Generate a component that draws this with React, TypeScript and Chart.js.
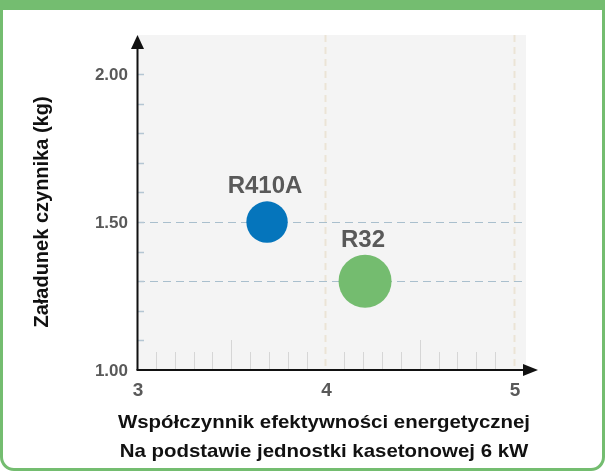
import { useEffect, useRef } from 'react';
import { Chart, registerables } from 'chart.js';

Chart.register(...registerables);

// ---- data ----
const refrigerants = ['R410A', 'R32'];
const efficiency = [3.69, 4.21];
const charge = [1.5, 1.3];
const xTickValues = [3, 4, 5];
const xTickLabels = ['3', '4', '5'];
const yTickValues = [1.0, 1.5, 2.0];
const yTickLabels = ['1.00', '1.50', '2.00'];
const xGuides = [4, 5];
const yGuides = [1.5, 1.3];
const xTitle = ['Współczynnik efektywności energetycznej', 'Na podstawie jednostki kasetonowej 6 kW'];
const yTitle = 'Załadunek czynnika (kg)';

// ---- styles ----
const pointColors = ['#0575bc', '#74bc6f'];
const pointRadii = [20.7, 26.5];
const FONT = '"Liberation Sans", Arial, "DejaVu Sans", sans-serif';

const decor = {
  id: 'decor',
  beforeDatasetsDraw(chart: any) {
    const { ctx, chartArea: a, scales } = chart;
    const x = scales.x, y = scales.y;
    ctx.save();
    ctx.fillStyle = '#f4f4f4';
    ctx.fillRect(a.left, a.top, a.right - a.left, a.bottom - a.top);
    // vertical dashed guides
    ctx.strokeStyle = '#ebe4d6';
    ctx.lineWidth = 2;
    ctx.setLineDash([7, 5]);
    xGuides.forEach((v) => {
      const px = Math.round(x.getPixelForValue(v)) + 0.5;
      ctx.beginPath();
      ctx.moveTo(px, a.top);
      ctx.lineTo(px, a.bottom);
      ctx.stroke();
    });
    // horizontal dashed guides
    ctx.strokeStyle = '#a9bfcd';
    ctx.lineWidth = 1;
    ctx.setLineDash([8, 5]);
    yGuides.forEach((v) => {
      const py = Math.round(y.getPixelForValue(v)) + 0.5;
      ctx.beginPath();
      ctx.moveTo(a.left, py);
      ctx.lineTo(a.right, py);
      ctx.stroke();
    });
    ctx.setLineDash([]);
    // x minor ticks
    ctx.strokeStyle = '#d6d6d6';
    ctx.lineWidth = 1;
    for (let i = 1; i < 20; i++) {
      if (i === 10) continue;
      const v = 3 + i / 10;
      const px = Math.round(x.getPixelForValue(v)) + 0.5;
      const len = i % 5 === 0 ? 30 : 18;
      ctx.beginPath();
      ctx.moveTo(px, a.bottom);
      ctx.lineTo(px, a.bottom - len);
      ctx.stroke();
    }
    // y minor ticks
    ctx.strokeStyle = '#b4c6d3';
    ctx.lineWidth = 1.5;
    for (let i = 1; i <= 10; i++) {
      const v = 1 + i / 10;
      const py = Math.round(y.getPixelForValue(v)) + 0.5;
      ctx.beginPath();
      ctx.moveTo(a.left, py);
      ctx.lineTo(a.left + 7, py);
      ctx.stroke();
    }
    ctx.restore();
  },
  afterDraw(chart: any) {
    const { ctx, scales } = chart;
    const x = scales.x, y = scales.y;
    ctx.save();
    const ax = x.getPixelForValue(3);
    const ay = y.getPixelForValue(1);
    // axes
    ctx.strokeStyle = '#111';
    ctx.fillStyle = '#111';
    ctx.lineWidth = 2;
    ctx.beginPath();
    ctx.moveTo(ax + 0.5, ay);
    ctx.lineTo(ax + 0.5, 48);
    ctx.stroke();
    ctx.beginPath();
    ctx.moveTo(ax + 0.5, 35);
    ctx.lineTo(ax + 0.5 - 6.5, 49);
    ctx.lineTo(ax + 0.5 + 6.5, 49);
    ctx.closePath();
    ctx.fill();
    ctx.beginPath();
    ctx.moveTo(ax - 0.5, ay);
    ctx.lineTo(524, ay);
    ctx.stroke();
    ctx.beginPath();
    ctx.moveTo(538, ay);
    ctx.lineTo(523, ay - 6);
    ctx.lineTo(523, ay + 6);
    ctx.closePath();
    ctx.fill();

    // tick labels
    ctx.fillStyle = '#595959';
    ctx.font = `bold 17px ${FONT}`;
    ctx.textAlign = 'right';
    ctx.textBaseline = 'middle';
    yTickValues.forEach((v, i) => {
      ctx.fillText(yTickLabels[i], 128, y.getPixelForValue(v) + 1);
    });
    ctx.font = `bold 19px ${FONT}`;
    ctx.textAlign = 'center';
    xTickValues.forEach((v, i) => {
      ctx.fillText(xTickLabels[i], x.getPixelForValue(v) + 1, 391);
    });

    // point labels
    ctx.font = `bold 24px ${FONT}`;
    ctx.textBaseline = 'alphabetic';
    refrigerants.forEach((name, i) => {
      const px = x.getPixelForValue(efficiency[i]);
      const py = y.getPixelForValue(charge[i]);
      ctx.fillText(name, px - 2, py - pointRadii[i] - 8);
    });

    // axis titles (slightly widened to match the reference's wide bold face)
    ctx.fillStyle = '#111';
    ctx.font = `bold 19px ${FONT}`;
    ctx.textBaseline = 'middle';
    [423, 452].forEach((ty, i) => {
      ctx.save();
      ctx.translate(324, ty);
      ctx.scale(1.075, 1);
      ctx.fillText(xTitle[i], 0, 0);
      ctx.restore();
    });
    ctx.translate(42, 212);
    ctx.rotate(-Math.PI / 2);
    ctx.font = `bold 20px ${FONT}`;
    ctx.fillText(yTitle, 0, 0);
    ctx.restore();
  },
};

export default function App() {
  const ref = useRef<HTMLCanvasElement>(null);
  useEffect(() => {
    document.body.style.margin = '0';
    const chart = new Chart(ref.current!, {
      type: 'scatter',
      data: {
        datasets: refrigerants.map((name, i) => ({
          label: name,
          data: [{ x: efficiency[i], y: charge[i] }],
          backgroundColor: pointColors[i],
          borderWidth: 0,
          pointRadius: pointRadii[i],
          pointHoverRadius: pointRadii[i],
        })),
      },
      options: {
        responsive: false,
        animation: false,
        layout: { padding: { left: 137, right: 79, top: 35, bottom: 102 } },
        plugins: { legend: { display: false }, tooltip: { enabled: false } },
        scales: {
          x: { type: 'linear', min: 3, max: 5.064, display: false },
          y: { type: 'linear', min: 1, max: 2.132, display: false },
        },
      },
      plugins: [decor],
    });
    return () => chart.destroy();
  }, []);
  return (
    <div style={{ position: 'absolute', left: 0, top: 0, width: 605, height: 472 }}>
      <div
        style={{
          position: 'absolute',
          left: 0,
          top: 0,
          width: 605,
          height: 471,
          boxSizing: 'border-box',
          border: '3px solid #74bd70',
          borderTop: '10px solid #74bd70',
          borderRadius: '0 0 14px 14px',
          background: '#fff',
        }}
      />
      <canvas ref={ref} width={605} height={472} style={{ position: 'absolute', left: 0, top: 0 }} />
    </div>
  );
}
